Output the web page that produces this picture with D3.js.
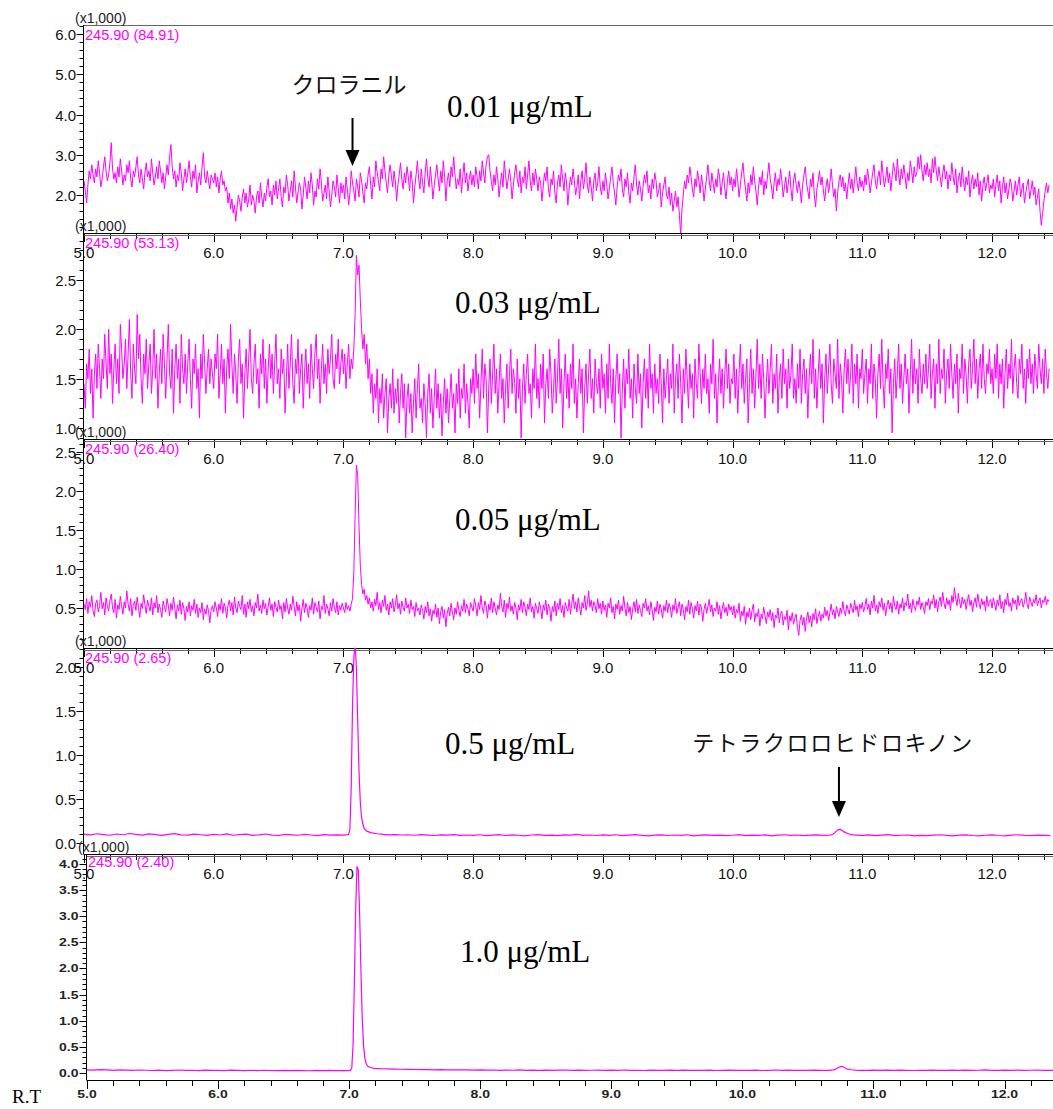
<!DOCTYPE html>
<html>
<head>
<meta charset="utf-8">
<script src="https://cdn.jsdelivr.net/npm/d3@7"></script>
<style>
  html, body { margin: 0; padding: 0; background: #fff; }
  svg { display: block; }
</style>
</head>
<body>
<svg id="chart" width="1053" height="1109"></svg>
<script>
// ---------- Data (intensity in ×1,000 counts, retention time in min) ----------
const T0 = 5.0;          // first sample time of every trace
const NOISE_STEP = 0.01; // sampling interval of the noisy traces
const BASE_STEP = 0.05;  // sampling interval of the flat baselines

// 0.01 μg/mL
const trace001 = [
  2.35,2.10,1.80,2.25,2.60,2.40,2.75,2.50,2.30,2.65, 2.45,2.85,2.55,2.20,2.40,2.70,2.95,2.60,2.35,2.50,
  2.80,3.30,2.65,2.40,2.55,2.30,2.70,2.45,2.90,2.60, 2.25,2.50,2.35,2.75,2.55,2.85,2.40,2.20,2.60,2.45,
  2.70,2.95,2.50,2.30,2.65,2.40,2.15,2.55,2.80,2.45,
  2.60,2.35,2.90,2.55,2.25,2.45,2.70,2.40,2.85,2.60, 2.30,2.55,2.15,2.45,2.75,2.50,2.95,3.25,2.70,2.40,
  2.60,2.20,2.50,2.35,2.80,2.55,2.10,2.40,2.65,2.30, 2.55,2.85,2.45,2.20,2.60,2.40,2.75,2.05,2.35,2.55,
  2.25,2.70,3.05,2.45,2.30,2.60,2.35,2.15,2.50,2.40,
  2.30,2.55,2.20,2.45,2.05,2.40,2.60,2.25,2.35,2.10, 2.20,1.80,2.05,1.65,1.90,1.55,1.75,1.35,1.70,2.00,
  1.85,1.60,1.95,2.15,1.80,2.05,1.70,1.90,2.25,1.75, 2.00,1.85,1.55,1.95,2.10,1.80,2.30,1.95,1.70,2.05,
  1.85,2.20,2.40,1.95,2.10,1.75,2.25,2.00,2.35,1.90,
  2.15,2.40,1.95,1.70,2.20,2.05,2.50,2.25,1.85,2.10, 2.35,1.95,2.60,2.20,1.80,2.05,2.30,2.15,1.65,2.00,
  2.45,2.20,1.90,2.35,2.05,2.55,2.25,1.75,2.10,1.95, 2.40,2.15,2.65,2.30,1.85,2.05,2.25,1.90,2.45,2.10,
  1.70,2.00,2.35,2.20,1.95,2.50,2.15,1.80,2.30,2.05,
  2.25,1.90,2.45,2.15,1.75,2.05,2.60,2.30,2.10,1.85, 2.40,2.20,1.95,2.55,2.35,2.05,1.80,2.30,2.15,2.50,
  2.70,2.25,1.90,2.45,2.20,2.85,2.55,2.35,2.10,2.65, 2.40,2.95,2.60,2.30,2.05,2.50,2.75,2.45,2.20,2.60,
  2.35,1.85,2.25,2.50,2.80,2.40,2.15,2.55,2.30,2.70,
  2.45,2.10,2.60,2.35,1.80,2.20,2.50,2.85,2.40,2.15, 2.65,2.30,2.05,2.55,2.90,2.45,2.20,2.70,2.35,1.90,
  2.25,2.50,2.75,2.40,2.10,2.60,2.30,2.85,2.45,1.85, 2.35,2.55,2.20,2.70,2.45,2.95,2.50,2.15,2.40,2.25,
  2.65,2.05,2.45,2.80,2.30,2.55,2.10,2.40,2.60,2.25,
  2.50,2.20,2.70,2.45,2.15,2.60,2.35,2.85,2.55,2.30, 2.75,2.95,3.00,2.60,2.35,2.10,2.50,2.25,2.70,2.40,
  1.95,2.30,2.55,2.20,2.85,2.50,2.15,2.40,2.65,2.35, 1.90,2.25,2.55,2.75,2.40,2.20,2.60,2.05,2.45,2.30,
  2.70,2.15,2.50,2.85,2.35,2.10,2.55,2.25,2.65,2.40,
  2.10,2.45,2.30,1.85,2.20,2.55,2.35,2.70,2.15,1.95, 2.40,2.25,2.60,2.05,1.80,2.30,2.50,2.20,2.75,2.40,
  2.10,2.55,2.30,1.75,2.15,2.45,2.25,2.65,2.35,2.00, 2.20,2.50,1.90,2.35,2.60,2.15,2.40,2.80,2.25,2.05,
  2.45,2.20,1.85,2.35,2.55,2.10,2.30,2.70,2.20,2.00,
  2.35,2.10,2.55,2.25,1.90,2.15,2.45,2.70,2.30,2.05, 1.75,2.20,2.50,2.35,2.65,2.15,1.95,2.40,2.20,2.55,
  2.05,1.80,2.30,2.10,2.45,2.75,2.25,2.00,2.35,2.15, 1.85,2.20,2.50,2.30,2.60,2.05,2.25,1.90,2.40,2.15,
  2.55,2.35,1.95,2.10,2.30,1.70,2.05,2.25,2.45,2.00,
  1.90,2.20,1.75,2.05,1.60,1.85,2.10,1.70,1.95,1.50, 1.00,1.65,2.00,2.35,2.15,2.50,2.30,2.70,2.45,2.15,
  1.95,2.40,2.20,2.60,2.35,2.05,2.50,2.25,1.85,2.15, 2.45,2.75,2.35,2.10,2.55,2.30,2.05,2.40,2.20,2.65,
  2.45,2.00,2.30,2.55,2.15,1.90,2.35,2.60,2.25,2.45,
  2.10,2.40,2.20,2.65,2.35,1.95,2.25,2.55,2.80,2.40, 2.15,1.85,2.30,2.05,2.50,2.25,2.70,2.35,2.10,1.75,
  2.20,2.45,2.25,2.60,2.00,2.35,2.15,2.50,2.80,2.40, 2.20,1.90,2.30,2.55,2.10,2.40,2.25,2.65,2.35,1.95,
  2.20,2.45,2.05,2.30,2.60,2.15,1.85,2.35,2.55,2.25,
  2.05,2.35,2.15,1.80,2.25,2.50,2.70,2.30,2.10,1.90, 2.40,2.20,2.55,2.00,1.70,2.15,2.35,2.60,2.25,2.45,
  2.10,1.85,2.20,2.40,2.05,2.30,2.65,2.25,1.95,2.15, 1.60,2.05,2.35,2.50,2.20,2.45,2.10,2.30,1.90,2.25,
  2.55,2.15,2.40,2.05,2.35,2.70,2.30,2.10,2.45,2.20,
  2.35,2.10,2.50,2.25,2.65,2.40,2.05,2.30,2.55,2.75, 2.35,2.15,2.45,2.60,2.25,2.85,2.50,2.20,2.40,2.70,
  2.30,2.55,2.10,2.45,2.80,2.60,2.35,2.90,2.50,2.25, 2.65,2.40,2.75,2.45,2.15,2.55,2.35,2.85,2.60,2.30,
  2.70,2.45,2.55,2.95,2.65,3.00,2.60,2.35,2.75,2.50,
  2.80,2.45,2.65,2.30,2.90,2.55,2.95,2.60,2.35,2.70, 2.45,2.20,2.55,2.75,2.40,2.60,2.15,2.50,2.35,2.80,
  2.45,2.25,2.65,2.05,2.40,2.55,2.20,2.70,2.35,2.10, 2.45,2.25,2.60,1.95,2.30,2.50,2.15,2.40,2.20,2.55,
  2.00,2.35,1.85,2.25,2.45,2.10,2.30,2.50,2.05,2.25,
  2.15,2.40,1.95,2.25,2.50,2.10,2.35,1.80,2.20,2.45, 2.05,2.30,1.90,2.15,2.40,2.25,1.85,2.10,2.35,2.00,
  2.25,2.45,1.95,2.15,2.30,1.80,2.05,2.25,2.40,1.90, 2.10,2.35,2.00,2.20,1.75,1.95,2.15,1.60,1.25,1.55,
  1.85,2.10,2.30,2.05,2.25
];

// 0.03 μg/mL
const trace003 = [
  1.45,1.20,1.65,1.50,1.80,1.35,1.60,1.10,1.55,1.75, 1.40,1.85,1.60,1.30,1.70,1.50,1.95,1.65,1.40,2.00,
  1.55,1.75,1.25,1.60,1.85,1.45,1.70,1.35,2.05,1.80, 1.50,1.65,1.90,1.40,1.75,2.10,1.55,1.30,1.85,1.60,
  1.45,2.15,1.70,1.95,1.50,1.25,1.75,1.55,1.90,1.40,
  1.65,1.85,1.35,1.60,2.00,1.50,1.75,1.20,1.55,1.80, 1.45,1.95,1.65,1.30,1.70,2.05,1.55,1.40,1.80,1.15,
  1.60,1.85,1.50,1.70,1.25,1.95,1.60,1.45,1.75,1.35, 1.65,1.90,1.50,1.20,1.70,1.55,1.85,1.40,1.60,1.10,
  1.75,1.50,1.95,1.65,1.35,1.60,1.80,1.45,1.70,1.55,
  1.40,1.75,1.60,1.95,1.30,1.55,1.85,1.45,1.70,1.15, 1.60,1.80,1.50,2.05,1.65,1.35,1.75,1.55,1.25,1.70,
  1.90,1.45,1.65,1.10,1.55,1.80,1.40,1.70,2.00,1.50, 1.35,1.65,1.85,1.45,1.60,1.20,1.75,1.55,1.90,1.40,
  1.70,1.25,1.60,1.85,1.50,1.75,1.35,1.65,1.95,1.45,
  1.60,1.30,1.80,1.55,1.70,1.15,1.50,1.85,1.40,1.65, 1.95,1.45,1.25,1.70,1.55,1.90,1.35,1.60,1.75,1.20,
  1.55,1.80,1.45,1.65,1.30,1.85,1.60,1.40,1.75,1.95, 1.50,1.70,1.25,1.60,1.85,1.45,1.65,1.35,1.80,1.55,
  1.70,1.95,1.50,1.40,1.75,1.60,1.90,1.45,1.65,1.80,
  1.55,1.75,1.40,1.65,1.85,1.50,1.70,1.60,1.80,2.15, 2.75,2.55,2.65,2.30,2.00,1.80,1.95,1.65,1.85,1.50,
  1.70,1.35,1.55,1.15,1.45,1.30,1.60,1.05,1.40,1.25, 1.55,1.10,1.35,1.50,0.95,1.30,1.45,1.20,1.60,1.15,
  1.40,1.25,1.50,1.05,1.35,1.55,1.20,1.45,0.90,1.30,
  1.45,1.15,1.35,0.95,1.25,1.50,1.10,1.40,1.65,1.20, 1.30,1.05,1.45,1.25,0.90,1.35,1.55,1.15,1.40,1.00,
  1.30,1.60,1.20,1.45,1.10,1.35,0.92,1.25,1.50,1.15, 1.40,1.05,1.30,1.55,1.20,1.35,0.95,1.45,1.25,1.60,
  1.10,1.40,1.30,1.65,1.15,1.45,1.25,1.00,1.50,1.35,
  1.60,1.25,1.75,1.40,1.55,1.10,1.45,1.80,1.30,1.65, 1.50,0.95,1.40,1.70,1.25,1.55,1.85,1.35,1.60,1.15,
  1.45,1.75,1.30,1.50,1.05,1.40,1.65,1.20,1.55,1.80, 1.35,1.60,1.45,1.15,1.70,1.30,1.50,0.90,1.40,1.65,
  1.25,1.55,1.75,1.35,1.45,1.10,1.60,1.40,1.85,1.30,
  1.50,1.20,1.65,1.40,1.75,1.05,1.45,1.60,1.30,1.80, 1.55,1.15,1.40,1.70,1.25,1.50,1.90,1.35,1.60,1.00,
  1.45,1.75,1.30,1.55,1.20,1.65,1.40,1.85,1.25,1.50, 1.10,1.45,1.70,1.35,1.60,0.95,1.40,1.65,1.25,1.55,
  1.80,1.30,1.50,1.15,1.70,1.45,1.35,1.60,1.20,1.75,
  1.40,1.55,1.15,1.65,1.30,1.85,1.45,1.25,1.60,1.05, 1.50,1.75,1.35,1.55,0.90,1.40,1.70,1.20,1.60,1.45,
  1.80,1.30,1.50,1.10,1.65,1.40,1.25,1.75,1.35,1.55, 1.00,1.45,1.70,1.30,1.60,1.20,1.85,1.40,1.55,1.15,
  1.65,1.35,1.50,1.25,1.75,1.45,1.05,1.60,1.30,1.50,
  1.70,1.25,1.55,1.40,1.85,1.15,1.50,1.65,1.30,1.75, 1.45,1.05,1.60,1.35,1.80,1.50,1.20,1.65,1.40,1.55,
  1.10,1.70,1.45,1.30,1.85,1.55,1.25,1.60,1.40,1.75, 1.35,1.50,1.15,1.65,1.45,1.90,1.30,1.55,1.05,1.45,
  1.70,1.35,1.60,1.20,1.55,1.80,1.40,1.65,1.25,1.50,
  1.45,1.75,1.30,1.60,1.15,1.55,1.85,1.40,1.65,1.25, 1.50,1.70,1.05,1.45,1.80,1.35,1.60,1.20,1.55,1.90,
  1.40,1.65,1.30,1.75,1.50,1.10,1.45,1.70,1.35,1.60, 1.85,1.25,1.55,1.40,1.75,1.15,1.50,1.65,1.30,1.80,
  1.45,1.60,1.20,1.70,1.40,1.55,1.85,1.30,1.50,1.25,
  1.65,1.40,1.80,1.25,1.55,1.70,1.35,1.60,1.10,1.50, 1.75,1.45,1.90,1.30,1.60,1.20,1.55,1.80,1.40,1.65,
  1.05,1.50,1.75,1.35,1.60,1.85,1.45,1.25,1.70,1.55, 1.40,1.90,1.30,1.65,1.50,1.15,1.60,1.80,1.45,1.70,
  1.35,1.55,1.85,1.25,1.65,1.45,1.75,1.20,1.60,1.50,
  1.80,1.35,1.55,1.70,1.25,1.60,1.45,1.85,1.30,1.65, 1.50,1.10,1.55,1.75,1.40,1.90,1.45,1.20,1.65,1.50,
  1.80,1.35,1.60,0.95,1.45,1.70,1.30,1.55,1.85,1.40, 1.65,1.25,1.50,1.75,1.45,1.60,1.15,1.55,1.90,1.35,
  1.70,1.45,1.60,1.25,1.80,1.50,1.35,1.65,1.45,1.75,
  1.40,1.60,1.85,1.30,1.55,1.70,1.20,1.65,1.45,1.90, 1.35,1.60,1.50,1.80,1.25,1.55,1.70,1.40,1.85,1.55,
  1.30,1.65,1.45,1.75,1.15,1.60,1.50,1.85,1.35,1.70, 1.55,1.25,1.65,1.80,1.40,1.60,1.90,1.45,1.70,1.30,
  1.60,1.75,1.40,1.85,1.50,1.35,1.65,1.55,1.80,1.45,
  1.60,1.35,1.75,1.50,1.85,1.30,1.65,1.45,1.70,1.20, 1.55,1.80,1.40,1.65,1.50,1.90,1.35,1.60,1.75,1.45,
  1.30,1.70,1.55,1.85,1.40,1.60,1.25,1.70,1.50,1.80, 1.45,1.65,1.35,1.75,1.55,1.40,1.85,1.60,1.45,1.70,
  1.35,1.80,1.55,1.40,1.60
];

// 0.05 μg/mL
const trace005 = [
  0.55,0.48,0.62,0.43,0.58,0.51,0.66,0.47,0.39,0.56, 0.60,0.45,0.53,0.70,0.49,0.57,0.41,0.63,0.52,0.46,
  0.59,0.68,0.50,0.44,0.61,0.37,0.54,0.48,0.65,0.52, 0.42,0.58,0.50,0.72,0.55,0.46,0.62,0.40,0.53,0.59,
  0.47,0.64,0.51,0.38,0.56,0.49,0.67,0.54,0.43,0.60,
  0.52,0.46,0.63,0.41,0.57,0.50,0.66,0.44,0.55,0.48, 0.38,0.59,0.51,0.45,0.62,0.53,0.40,0.56,0.47,0.64,
  0.50,0.36,0.54,0.46,0.60,0.42,0.57,0.49,0.34,0.52, 0.45,0.58,0.40,0.53,0.47,0.61,0.43,0.55,0.38,0.50,
  0.44,0.57,0.35,0.49,0.42,0.54,0.46,0.31,0.48,0.53,
  0.45,0.58,0.50,0.39,0.55,0.47,0.62,0.43,0.56,0.51, 0.37,0.53,0.60,0.46,0.57,0.41,0.64,0.50,0.44,0.59,
  0.52,0.48,0.66,0.42,0.55,0.38,0.58,0.49,0.61,0.45, 0.53,0.40,0.57,0.50,0.68,0.46,0.54,0.43,0.60,0.49,
  0.56,0.41,0.52,0.63,0.47,0.55,0.39,0.58,0.51,0.45,
  0.60,0.48,0.53,0.36,0.57,0.45,0.62,0.50,0.42,0.55, 0.47,0.65,0.52,0.40,0.58,0.46,0.54,0.33,0.49,0.61,
  0.44,0.56,0.50,0.38,0.53,0.47,0.63,0.42,0.57,0.51, 0.45,0.59,0.36,0.52,0.48,0.66,0.43,0.55,0.49,0.40,
  0.57,0.46,0.62,0.51,0.44,0.58,0.41,0.53,0.47,0.56,
  0.50,0.44,0.57,0.48,0.53,0.46,0.55,0.62,0.95,1.70, 2.33,2.20,1.55,1.05,0.80,0.68,0.74,0.60,0.66,0.55,
  0.63,0.50,0.58,0.46,0.61,0.53,0.70,0.48,0.57,0.44, 0.60,0.52,0.66,0.47,0.55,0.41,0.58,0.50,0.62,0.45,
  0.53,0.67,0.49,0.56,0.42,0.59,0.51,0.46,0.63,0.50,
  0.55,0.43,0.60,0.48,0.52,0.39,0.57,0.46,0.50,0.41, 0.54,0.47,0.36,0.52,0.44,0.58,0.40,0.49,0.33,0.47,
  0.42,0.55,0.38,0.50,0.30,0.45,0.52,0.37,0.48,0.26, 0.43,0.51,0.40,0.56,0.45,0.35,0.50,0.42,0.58,0.47,
  0.39,0.53,0.46,0.61,0.44,0.55,0.49,0.40,0.57,0.51,
  0.46,0.62,0.52,0.40,0.57,0.48,0.66,0.50,0.43,0.59, 0.53,0.37,0.55,0.47,0.63,0.44,0.58,0.50,0.41,0.54,
  0.48,0.69,0.52,0.45,0.60,0.38,0.56,0.49,0.64,0.46, 0.53,0.42,0.57,0.50,0.35,0.54,0.47,0.61,0.44,0.58,
  0.51,0.40,0.55,0.48,0.63,0.45,0.52,0.37,0.56,0.49,
  0.43,0.58,0.50,0.36,0.54,0.47,0.60,0.41,0.55,0.49, 0.33,0.52,0.45,0.59,0.40,0.56,0.48,0.62,0.44,0.53,
  0.38,0.57,0.50,0.46,0.61,0.42,0.55,0.68,0.49,0.58, 0.45,0.63,0.52,0.41,0.57,0.50,0.66,0.47,0.55,0.72,
  0.51,0.60,0.46,0.58,0.53,0.44,0.62,0.49,0.56,0.42,
  0.59,0.47,0.54,0.38,0.56,0.50,0.63,0.44,0.52,0.36, 0.55,0.48,0.60,0.42,0.53,0.46,0.65,0.50,0.40,0.57,
  0.44,0.52,0.35,0.49,0.58,0.45,0.61,0.43,0.54,0.47, 0.39,0.56,0.50,0.62,0.46,0.53,0.41,0.58,0.48,0.34,
  0.51,0.45,0.59,0.42,0.55,0.49,0.37,0.53,0.46,0.60,
  0.44,0.56,0.50,0.38,0.54,0.47,0.62,0.43,0.51,0.58, 0.40,0.55,0.48,0.35,0.52,0.45,0.60,0.42,0.57,0.49,
  0.37,0.53,0.46,0.59,0.41,0.55,0.50,0.33,0.48,0.56, 0.43,0.52,0.61,0.45,0.54,0.39,0.50,0.46,0.58,0.42,
  0.53,0.36,0.49,0.57,0.44,0.51,0.40,0.55,0.47,0.52,
  0.41,0.53,0.37,0.48,0.44,0.56,0.33,0.46,0.40,0.52, 0.29,0.45,0.38,0.50,0.35,0.47,0.55,0.32,0.43,0.39,
  0.49,0.27,0.42,0.36,0.51,0.40,0.30,0.45,0.38,0.48, 0.34,0.44,0.25,0.41,0.37,0.50,0.31,0.43,0.46,0.28,
  0.39,0.35,0.47,0.22,0.40,0.33,0.44,0.29,0.37,0.42,
  0.25,0.15,0.34,0.41,0.28,0.38,0.20,0.36,0.45,0.31, 0.40,0.26,0.43,0.35,0.49,0.30,0.39,0.46,0.33,0.42,
  0.37,0.51,0.40,0.47,0.34,0.44,0.55,0.41,0.48,0.36, 0.52,0.45,0.39,0.50,0.43,0.58,0.46,0.40,0.54,0.48,
  0.42,0.56,0.50,0.44,0.60,0.47,0.53,0.39,0.55,0.49,
  0.57,0.45,0.52,0.62,0.48,0.55,0.41,0.59,0.50,0.66, 0.46,0.54,0.43,0.58,0.51,0.63,0.47,0.56,0.40,0.53,
  0.60,0.49,0.57,0.44,0.65,0.52,0.48,0.59,0.42,0.55, 0.50,0.63,0.46,0.57,0.53,0.68,0.49,0.56,0.44,0.61,
  0.52,0.47,0.59,0.54,0.64,0.48,0.57,0.51,0.43,0.58,
  0.53,0.62,0.48,0.59,0.55,0.67,0.50,0.61,0.45,0.58, 0.64,0.52,0.70,0.56,0.49,0.63,0.54,0.60,0.47,0.66,
  0.57,0.76,0.62,0.53,0.69,0.58,0.50,0.64,0.55,0.61, 0.48,0.59,0.67,0.53,0.60,0.45,0.57,0.63,0.51,0.68,
  0.56,0.49,0.62,0.54,0.59,0.46,0.65,0.52,0.58,0.61,
  0.50,0.63,0.55,0.47,0.60,0.53,0.67,0.49,0.58,0.44, 0.61,0.54,0.69,0.52,0.57,0.46,0.63,0.55,0.60,0.48,
  0.66,0.53,0.59,0.62,0.51,0.57,0.70,0.55,0.49,0.64, 0.58,0.52,0.61,0.56,0.67,0.53,0.59,0.63,0.50,0.60,
  0.57,0.65,0.54,0.61,0.58
];

// 0.5 μg/mL : baseline every 0.05 min, plus detailed peak segments
const base05 = [
  0.100,0.092,0.105,0.096,0.088,0.102,0.094,0.108,0.097,0.090,
  0.103,0.095,0.087,0.099,0.106,0.093,0.089,0.101,0.094,0.086,
  0.098,0.091,0.104,0.088,0.095,0.100,0.087,0.093,0.102,0.090,
  0.085,0.097,0.092,0.088,0.099,0.091,0.084,0.096,0.089,0.093,
  0.090,0.092,0.095,0.098,0.096,0.094,0.097,0.093,0.095,0.091,
  0.094,0.088,0.096,0.090,0.085,0.093,0.089,0.095,0.086,0.091,
  0.087,0.094,0.083,0.090,0.096,0.085,0.092,0.088,0.082,0.091,
  0.095,0.086,0.090,0.084,0.093,0.089,0.097,0.087,0.091,0.085,
  0.092,0.086,0.094,0.083,0.089,0.095,0.087,0.082,0.090,0.093,
  0.085,0.091,0.087,0.094,0.082,0.089,0.093,0.086,0.090,0.084,
  0.088,0.095,0.083,0.090,0.086,0.092,0.081,0.089,0.094,0.087,
  0.091,0.084,0.089,0.093,0.086,0.090,0.088,0.091,0.089,0.090,
  0.086,0.092,0.084,0.089,0.095,0.083,0.088,0.091,0.080,0.087,
  0.084,0.090,0.094,0.086,0.081,0.089,0.093,0.085,0.082,0.088,
  0.092,0.085,0.080,0.089,0.094,0.086,0.083,0.090,0.087,0.084
];
const peak05 = [
  [7.04,0.095],[7.05,0.16],[7.06,0.65],[7.07,1.55],[7.08,2.10],[7.09,2.28],[7.10,1.98],[7.11,1.38],
  [7.12,0.82],[7.13,0.46],[7.14,0.29],[7.15,0.21],[7.16,0.165],[7.18,0.135],[7.21,0.118],[7.26,0.105],[7.31,0.097]
];
const bump05 = [
  [10.74,0.088],[10.77,0.095],[10.79,0.12],[10.81,0.15],[10.83,0.155],[10.85,0.135],[10.87,0.118],[10.90,0.102],[10.93,0.092]
];

// 1.0 μg/mL
const base10 = [
  0.060,0.055,0.064,0.058,0.052,0.061,0.056,0.050,0.057,0.053,
  0.048,0.054,0.046,0.051,0.057,0.049,0.053,0.047,0.055,0.050,
  0.052,0.046,0.054,0.049,0.044,0.051,0.047,0.053,0.048,0.045,
  0.050,0.046,0.052,0.047,0.043,0.049,0.045,0.051,0.046,0.048,
  0.046,0.050,0.050,0.050,0.050,0.050,0.050,0.075,0.072,0.070,
  0.067,0.064,0.066,0.061,0.063,0.059,0.062,0.058,0.060,0.056,
  0.059,0.054,0.057,0.052,0.056,0.053,0.058,0.051,0.055,0.052,
  0.056,0.050,0.054,0.057,0.051,0.055,0.049,0.053,0.056,0.050,
  0.054,0.051,0.057,0.050,0.053,0.048,0.055,0.052,0.049,0.054,
  0.051,0.056,0.049,0.053,0.050,0.055,0.048,0.052,0.054,0.049,
  0.053,0.050,0.055,0.048,0.052,0.057,0.050,0.054,0.049,0.053,
  0.051,0.055,0.049,0.053,0.050,0.052,0.054,0.050,0.050,0.050,
  0.056,0.051,0.054,0.049,0.055,0.052,0.048,0.053,0.050,0.055,
  0.052,0.049,0.054,0.051,0.056,0.050,0.053,0.058,0.052,0.049,
  0.054,0.051,0.056,0.050,0.053,0.057,0.052,0.049,0.055,0.051
];
const peak10 = [
  [7.00,0.046],[7.01,0.05],[7.02,0.09],[7.03,0.55],[7.04,1.75],[7.05,3.15],[7.06,3.95],[7.07,3.88],
  [7.08,3.05],[7.09,1.95],[7.10,1.05],[7.11,0.52],[7.12,0.28],[7.13,0.18],[7.14,0.135],[7.16,0.105],
  [7.19,0.09],[7.24,0.082],[7.30,0.078]
];
const bump10 = [
  [10.66,0.052],[10.70,0.06],[10.72,0.085],[10.74,0.115],[10.76,0.128],[10.78,0.10],[10.80,0.075],[10.83,0.062],[10.86,0.055]
];

const concLabels = ["0.01 μg/mL", "0.03 μg/mL", "0.05 μg/mL", "0.5 μg/mL", "1.0 μg/mL"];
const massLabels = ["245.90 (84.91)", "245.90 (53.13)", "245.90 (26.40)", "245.90 (2.65)", "245.90 (2.40)"];
const scaleLabel = "(x1,000)";
const xTickMajor = [5, 6, 7, 8, 9, 10, 11, 12];
const compoundA = { name: "クロラニル", time: 7.07 };
const compoundB = { name: "テトラクロロヒドロキノン", time: 10.82 };

// ---------- Helpers ----------
function stepSeries(values, step) {
  return values.map((v, i) => [T0 + i * step, v]);
}
function withSegments(values, step, segments) {
  let pts = stepSeries(values, step);
  segments.forEach(seg => {
    const a = seg[0][0], b = seg[seg.length - 1][0];
    pts = pts.filter(p => p[0] < a - 1e-9 || p[0] > b + 1e-9).concat(seg);
  });
  return pts.sort((p, q) => p[0] - q[0]);
}

const series = [
  stepSeries(trace001, NOISE_STEP),
  stepSeries(trace003, NOISE_STEP),
  stepSeries(trace005, NOISE_STEP),
  withSegments(base05, BASE_STEP, [peak05, bump05]),
  withSegments(base10, BASE_STEP, [peak10, bump10])
];

// ---------- Layout ----------
const W = 1053;
const SANS = "'Liberation Sans', Arial, sans-serif";
const SERIF = "'Liberation Serif', 'Times New Roman', serif";
const CJK = "'Noto Sans CJK JP', sans-serif";
const MAGENTA = "#ff00ff";

const panels = [
  { top: 25,  bottom: 233,  axisX: 83.5, x0: 84, xEnd: 12.47, y: [1.056, 6.224], major: 1,   minor: 0.2, yFrom: 1.2, conc: [447, 117] },
  { top: 233, bottom: 439,  axisX: 83.5, x0: 84, xEnd: 12.47, y: [0.889, 2.976], major: 0.5, minor: 0.1, yFrom: 0.9, conc: [455, 313] },
  { top: 439, bottom: 648,  axisX: 83.5, x0: 84, xEnd: 12.47, y: [-0.013, 2.667], major: 0.5, minor: 0.1, yFrom: 0.1, conc: [455, 530] },
  { top: 648, bottom: 854,  axisX: 83.5, x0: 84, xEnd: 12.47, y: [-0.125, 2.216], major: 0.5, minor: 0.1, yFrom: 0.0, conc: [445, 754] },
  { top: 854, bottom: 1080, axisX: 86.5, x0: 87, xEnd: 12.37, y: [-0.134, 4.19], major: 0.5, minor: 0.1, yFrom: 0.0, conc: [460, 962], compact: true }
];

const svg = d3.select("#chart");
const defs = svg.append("defs");

panels.forEach((p, i) => {
  const x = d3.scaleLinear().domain([5, p.xEnd]).range([p.x0, W]);
  const y = d3.scaleLinear().domain(p.y).range([p.bottom, p.top]);
  p.xScale = x; p.yScale = y;
  const g = svg.append("g").attr("class", "panel panel-" + i);

  // clip region for the trace
  const clipId = "clip" + i;
  defs.append("clipPath").attr("id", clipId)
    .append("rect")
    .attr("x", p.axisX).attr("y", p.top)
    .attr("width", W - p.axisX).attr("height", p.bottom - p.top);

  // trace
  const line = d3.line().x(d => x(d[0])).y(d => y(d[1]));
  g.append("path")
    .datum(series[i])
    .attr("clip-path", "url(#" + clipId + ")")
    .attr("fill", "none")
    .attr("stroke", MAGENTA)
    .attr("stroke-width", i < 3 ? 1 : 1.2)
    .attr("stroke-linejoin", "round")
    .attr("d", line);

  // top frame line
  const yTop = i === 0 ? p.top + 0.5 : p.top + 2.5;
  g.append("line")
    .attr("x1", p.axisX).attr("x2", W)
    .attr("y1", yTop).attr("y2", yTop)
    .attr("stroke", "#666").attr("stroke-width", 1);

  // y axis line
  g.append("line")
    .attr("x1", p.axisX).attr("x2", p.axisX)
    .attr("y1", p.top).attr("y2", p.bottom)
    .attr("stroke", "#000").attr("stroke-width", 1);

  // y ticks
  const ratio = Math.round(p.major / p.minor);
  const kStart = Math.round(p.yFrom / p.minor);
  const kEnd = Math.floor(p.y[1] / p.minor + 1e-6);
  for (let k = kStart; k <= kEnd; k++) {
    const v = k * p.minor;
    const yy = Math.round(y(v)) + 0.5;
    const isMajor = k % ratio === 0;
    g.append("line")
      .attr("x1", p.axisX - (isMajor ? 7 : 4)).attr("x2", p.axisX)
      .attr("y1", yy).attr("y2", yy)
      .attr("stroke", "#000").attr("stroke-width", 1);
    if (isMajor) {
      const label = v.toFixed(1);
      if (p.compact) {
        g.append("text")
          .attr("transform", `translate(${p.axisX - 8},${yy + 3.5}) scale(1.4,1)`)
          .attr("text-anchor", "end")
          .attr("font-family", SANS).attr("font-size", 10).attr("font-weight", "bold")
          .attr("fill", "#222")
          .text(label);
      } else {
        g.append("text")
          .attr("x", p.axisX - 7.5).attr("y", yy + 5)
          .attr("text-anchor", "end")
          .attr("font-family", SANS).attr("font-size", 15)
          .attr("fill", "#111")
          .text(label);
      }
    }
  }

  // x axis line
  g.append("line")
    .attr("x1", p.axisX).attr("x2", W)
    .attr("y1", p.bottom + 0.5).attr("y2", p.bottom + 0.5)
    .attr("stroke", "#000").attr("stroke-width", 1.2);

  // x ticks every 0.2 min, labelled every minute
  const nMinor = Math.floor((p.xEnd - 5) / 0.2 + 1e-6);
  for (let k = 0; k <= nMinor; k++) {
    const t = 5 + k * 0.2;
    const xx = Math.round(x(t)) + 0.5;
    const isMajor = k % 5 === 0;
    g.append("line")
      .attr("x1", xx).attr("x2", xx)
      .attr("y1", p.bottom).attr("y2", p.bottom + (isMajor ? 9 : 6))
      .attr("stroke", "#000").attr("stroke-width", 1);
  }
  xTickMajor.forEach(t => {
    if (t > p.xEnd) return;
    const xx = x(t);
    if (p.compact) {
      g.append("text")
        .attr("transform", `translate(${xx},${p.bottom + 18}) scale(1.4,1)`)
        .attr("text-anchor", "middle")
        .attr("font-family", SANS).attr("font-size", 10).attr("font-weight", "bold")
        .attr("fill", "#222")
        .text(t.toFixed(1));
    } else {
      g.append("text")
        .attr("x", xx).attr("y", p.bottom + 25)
        .attr("text-anchor", "middle")
        .attr("font-family", SANS).attr("font-size", 15)
        .attr("fill", "#111")
        .text(t.toFixed(1));
    }
  });

  // scale factor and mass labels
  g.append("text")
    .attr("x", p.compact ? 78 : 75).attr("y", p.top - 2.5)
    .attr("font-family", SANS).attr("font-size", 14)
    .attr("fill", "#222")
    .text(scaleLabel);
  g.append("text")
    .attr("x", p.x0 + 1).attr("y", p.top + (p.compact ? 12.5 : 14.5))
    .attr("font-family", SANS).attr("font-size", 14.5)
    .attr("fill", MAGENTA)
    .text(massLabels[i]);

  // concentration label
  g.append("text")
    .attr("x", p.conc[0]).attr("y", p.conc[1])
    .attr("font-family", SERIF).attr("font-size", 31)
    .attr("fill", "#000")
    .text(concLabels[i]);
});

// ---------- Annotations ----------
function arrow(xc, y1, y2) {
  svg.append("line")
    .attr("x1", xc).attr("x2", xc).attr("y1", y1).attr("y2", y2 - 14)
    .attr("stroke", "#000").attr("stroke-width", 2);
  svg.append("path")
    .attr("d", `M${xc - 7},${y2 - 16} L${xc + 7},${y2 - 16} L${xc},${y2} Z`)
    .attr("fill", "#000");
}

const ax1 = panels[0].xScale(compoundA.time);
svg.append("text")
  .attr("x", 349).attr("y", 93)
  .attr("text-anchor", "middle")
  .attr("font-family", CJK).attr("font-size", 23)
  .attr("fill", "#111")
  .text(compoundA.name);
arrow(ax1, 118, 166);

const ax2 = panels[3].xScale(compoundB.time);
svg.append("text")
  .attr("x", 833).attr("y", 751)
  .attr("text-anchor", "middle")
  .attr("font-family", CJK).attr("font-size", 22)
  .attr("letter-spacing", 1.6)
  .attr("fill", "#111")
  .text(compoundB.name);
arrow(ax2, 767, 817);

// retention time caption
svg.append("text")
  .attr("x", 12).attr("y", 1103)
  .attr("font-family", SERIF).attr("font-size", 19)
  .attr("fill", "#000")
  .text("R.T");
</script>
</body>
</html>
